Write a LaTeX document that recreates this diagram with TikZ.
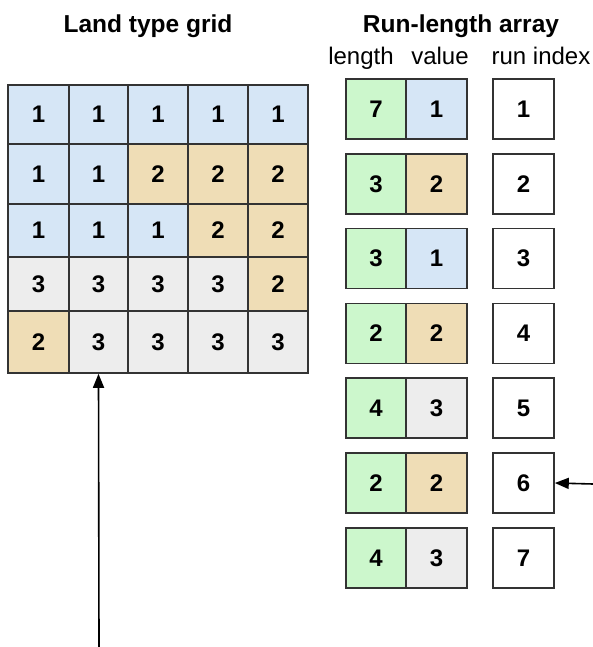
\documentclass[tikz,border=0pt]{standalone}
\usepackage{fontspec}
\setmainfont{Liberation Sans}
\usetikzlibrary{arrows.meta}
\definecolor{cblue}{HTML}{D6E6F6}
\definecolor{ctan}{HTML}{EFDDB6}
\definecolor{cgray}{HTML}{EDEDED}
\definecolor{cgreen}{HTML}{CCF7CC}
\definecolor{cline}{HTML}{333333}
\begin{document}
\begin{tikzpicture}[x=1pt,y=-1pt,
  cellbox/.style={draw=cline,line width=1.6pt,inner sep=0pt,font=\fontsize{24}{26}\selectfont\bfseries},
  titletext/.style={font=\fontsize{24.5}{27}\selectfont\bfseries,anchor=base},
  headtext/.style={font=\fontsize{24}{27}\selectfont,anchor=base},
  arr/.style={line width=1.6pt,-{Triangle[length=14pt,width=11pt]}}]
\useasboundingbox (0,0) rectangle (593,647);
\node[titletext] (t1) at (148,33) {Land type grid};
\node[titletext] (t2) at (461,33) {Run-length array};
\node[headtext] (h1) at (361,65) {length};
\node[headtext] (h2) at (440,65) {value};
\node[headtext] (h3) at (541,65) {run index};
% grid
\def\colx{{8,69,128,188,248,308}}
\def\rowy{{85,144,204,257,311,373}}
\foreach \r/\c/\v/\col in {
 1/1/1/cblue,1/2/1/cblue,1/3/1/cblue,1/4/1/cblue,1/5/1/cblue,
 2/1/1/cblue,2/2/1/cblue,2/3/2/ctan,2/4/2/ctan,2/5/2/ctan,
 3/1/1/cblue,3/2/1/cblue,3/3/1/cblue,3/4/2/ctan,3/5/2/ctan,
 4/1/3/cgray,4/2/3/cgray,4/3/3/cgray,4/4/3/cgray,4/5/2/ctan,
 5/1/2/ctan,5/2/3/cgray,5/3/3/cgray,5/4/3/cgray,5/5/3/cgray}{
  \pgfmathsetmacro\xa{\colx[\c-1]}
  \pgfmathsetmacro\xb{\colx[\c]}
  \pgfmathsetmacro\ya{\rowy[\r-1]}
  \pgfmathsetmacro\yb{\rowy[\r]}
  \node[cellbox,fill=\col,minimum width={(\xb-\xa)*1pt},minimum height={(\yb-\ya)*1pt}]
    (g\r\c) at ({(\xa+\xb)/2},{(\ya+\yb)/2}) {\v};
}
% run-length array
\foreach \i/\len/\v/\col in {1/7/1/cblue,2/3/2/ctan,3/3/1/cblue,4/2/2/ctan,5/4/3/cgray,6/2/2/ctan,7/4/3/cgray}{
  \pgfmathsetmacro\yc{79+30+(\i-1)*74.8}
  \node[cellbox,fill=cgreen,minimum width=60pt,minimum height=60pt] (l\i) at (376,\yc) {\len};
  \node[cellbox,fill=\col,minimum width=61pt,minimum height=60pt] (v\i) at (436.5,\yc) {\v};
  \node[cellbox,fill=white,minimum width=61pt,minimum height=60pt] (r\i) at (523.5,\yc) {\i};
}
\coordinate (a1) at (99,647);
\draw[arr] (a1) -- (g52.south);
\coordinate (a2) at (593,484);
\draw[arr] (a2) -- (r6.east);
\end{tikzpicture}
\end{document}
